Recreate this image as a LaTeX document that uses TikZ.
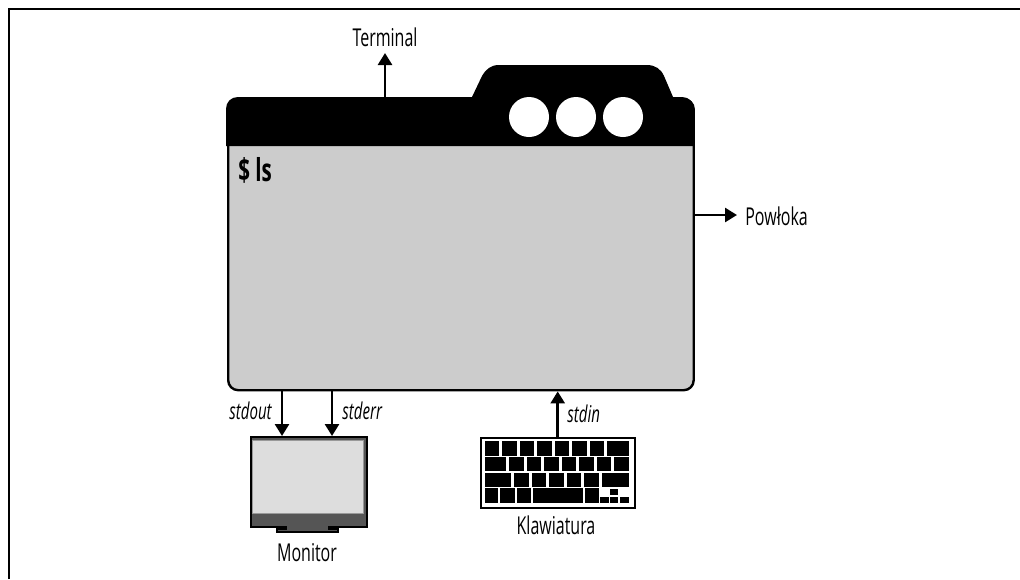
\documentclass[tikz,border=0pt]{standalone}
\usepackage{fontspec}
\setmainfont[FakeStretch=0.65]{Open Sans}
\usepackage{xcolor}
\usetikzlibrary{arrows.meta, positioning, calc}
\definecolor{windowgray}{HTML}{CCCCCC}
\definecolor{screengray}{HTML}{DDDDDD}
\definecolor{bezelgray}{HTML}{555555}
\def\px{0.02cm}
\tikzset{
  thickline/.style={line width=2.4*\px},
  flow/.style={line width=2.6*\px, -{Triangle[width=14*\px,length=12*\px]}},
  label/.style={font=\fontsize{14}{16}\selectfont, inner sep=0pt},
  stream/.style={font=\fontsize{13.2}{16}\selectfont\itshape, inner sep=0pt},
  keycap/.style={fill, draw, line width=1*\px},
}

\begin{document}
\begin{tikzpicture}[x=0.02cm, y=-0.02cm]
  \useasboundingbox (0,0) rectangle (1020,579);
  % Frame, top and left only
  \coordinate (frameL) at (9,579);
  \coordinate (frameC) at (9,9);
  \coordinate (frameR) at (1020,9);
  \draw[thickline] (frameL) -- (frameC) -- (frameR);

  % Terminal window
  \node[draw, thickline, fill=windowgray, rounded corners=0.2cm, minimum width=465.5*\px,
    minimum height=291*\px, inner sep=0pt, anchor=north west] (window) at (227,98) {};
  \fill (226,146) -- (226,109) .. controls (226,102) and (231,97) .. (238,97) -- (472,97)
    -- (482,76) .. controls (486,69) and (491,65) .. (499,65) -- (647,65)
    .. controls (655,65) and (661,69) .. (664,76) -- (673,97) -- (682,97)
    .. controls (689,97) and (693.5,102) .. (693.5,109) -- (693.5,146) -- cycle;
  \foreach \cx in {529,576,623}
    \fill[white] (\cx,117) circle (20);
  \node[font=\fontsize{18}{20}\selectfont\bfseries, inner sep=0pt, anchor=west] (prompt) at (238,170) {\$ ls};

  % Labels
  \node[label] (terminal) at (385,37) {Terminal};
  \node[label, anchor=west] (shell) at (745,216) {Powłoka};
  \coordinate (termfoot) at (385,98);
  \coordinate (shellfoot) at (693,215);
  \draw[flow] (termfoot) -- (385,53);
  \draw[flow] (shellfoot) -- (737,215);

  % Monitor
  \node[draw, thickline, fill=bezelgray, minimum width=116.5*\px, minimum height=90*\px,
    inner sep=0pt, anchor=north west] (monitor) at (249.5,436) {};
  \draw[gray!80, fill=screengray, line width=1*\px] (252,440) rectangle (363,513);
  \draw[thickline, fill=bezelgray] (277,526) -- (277,532) -- (338,532) -- (338,526);
  \fill (277,526) rectangle (287,529.5);
  \fill (328,526) rectangle (338,529.5);
  \node[label] (monitorlabel) at (307,553) {Monitor};
  \coordinate (outfoot) at (282,390);
  \coordinate (errfoot) at (332,390);
  \draw[flow] (outfoot) -- (outfoot |- monitor.north);
  \draw[flow] (errfoot) -- (errfoot |- monitor.north);
  \node[stream, anchor=east] (stdout) at (272,411) {stdout};
  \node[stream, anchor=west] (stderr) at (342,411) {stderr};

  % Keyboard
  \node[draw, thickline, fill=white, minimum width=154*\px, minimum height=70*\px,
    inner sep=0pt, anchor=north west] (keyboard) at (479.5,436.5) {};
  \begin{scope}[shift={(470,380)}, scale=1/3]
    \foreach \a/\b in {45/85,97/138,150/190,202/243,255/295,307/348,360/400,412/476}
      \path[keycap] (\a,183) rectangle (\b,225);
    \foreach \a/\b in {45/107,119/160,172/212,224/265,277/317,329/370,382/422,434/476}
      \path[keycap] (\a,232) rectangle (\b,272);
    \foreach \a/\b in {45/122,134/174,187/227,239/280,292/332,344/385,397/476}
      \path[keycap] (\a,279) rectangle (\b,318);
    \foreach \a/\b in {45/83,92/132,141/182,189/337,345/385}
      \path[keycap] (\a,326) rectangle (\b,368);
    % Arrow keys
    \foreach \a/\b in {390/416,420/445,450/476}
      \fill (\a,351) rectangle (\b,369);
    \fill (420,326) rectangle (445,345);
  \end{scope}
  \node[label] (keyboardlabel) at (556,525) {Klawiatura};
  \draw[flow] (keyboard.north) -- (keyboard.north |- window.south);
  \node[stream, anchor=west] (stdin) at (567,414) {stdin};
\end{tikzpicture}
\end{document}
